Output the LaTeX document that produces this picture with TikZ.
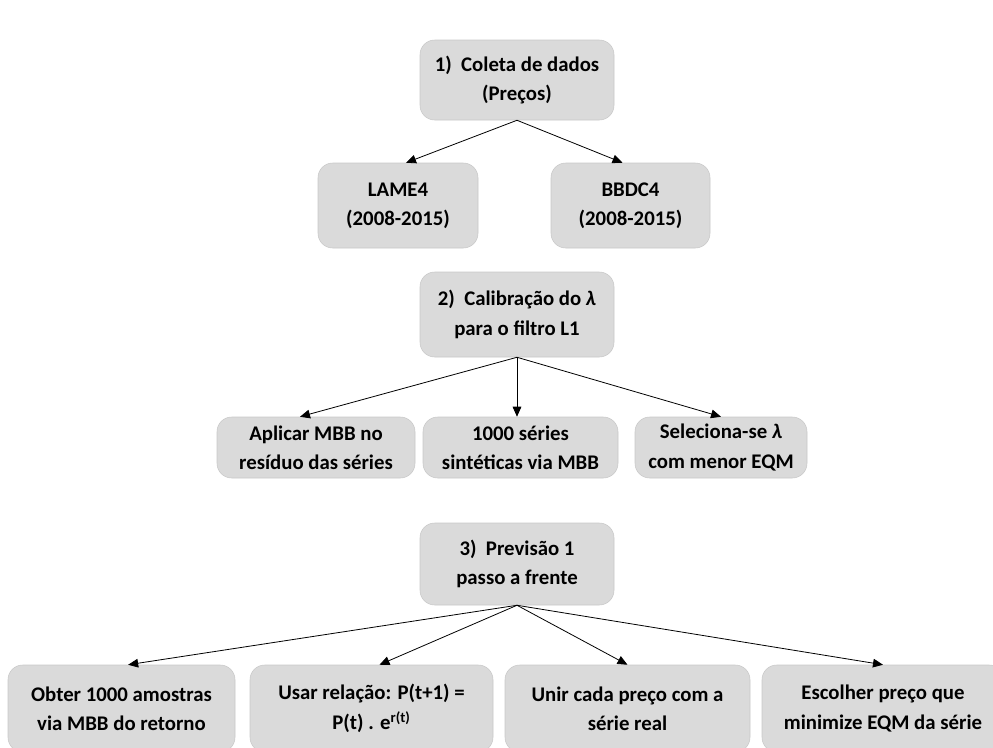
\documentclass[tikz,border=0pt]{standalone}
\usepackage{fontspec}
\setmainfont{Carlito}
\usepackage{tikz}
\usetikzlibrary{arrows.meta}
\definecolor{caixa}{RGB}{218,218,218}
\definecolor{borda}{RGB}{200,200,200}

\begin{document}
\begin{tikzpicture}[x=0.75pt, y=-0.75pt,
  every node/.style={font=\fontsize{15.6pt}{22pt}\selectfont\bfseries},
  etapa/.style={draw=borda, fill=caixa, rounded corners=11pt, align=center, inner sep=2pt},
  seta/.style={-{Triangle[length=7.5pt, width=6.5pt]}, draw=black, line width=0.6pt}]
  \useasboundingbox (0,0) rectangle (993,747);
  % Coleta
  \node[etapa, minimum width=145.5pt, minimum height=60pt] (coleta) at (517,80) {1)\ \ Coleta de dados\\(Preços)};
  \node[etapa, minimum width=120pt, minimum height=63.75pt] (lame) at (398,205.5) {LAME4\\(2008-2015)};
  \node[etapa, minimum width=119.25pt, minimum height=63.75pt] (bbdc) at (630.5,205.5) {BBDC4\\(2008-2015)};
  \draw[seta] (coleta.south) -- ([xshift=6pt]lame.north);
  \draw[seta] (coleta.south) -- ([xshift=-6pt]bbdc.north);
  % Calibracao
  \node[etapa, minimum width=145.5pt, minimum height=63.75pt] (calib) at (517,314.5) {2)\ \ Calibração do \textit{λ}\\para o filtro L1};
  \node[etapa, minimum width=148.5pt, minimum height=45.75pt] (aplicar) at (316,447.5) {Aplicar MBB no\\resíduo das séries};
  \node[etapa, minimum width=146.25pt, minimum height=45.75pt] (sinteticas) at (520.5,447.5) {1000 séries\\sintéticas via MBB};
  \node[etapa, minimum width=129pt, minimum height=45.75pt] (seleciona) at (721,447.5) {Seleciona-se \textit{λ}\\com menor EQM};
  \draw[seta] (calib.south) -- ([xshift=-12pt]aplicar.north);
  \draw[seta] (calib.south) -- (calib.south |- sinteticas.north);
  \draw[seta] (calib.south) -- (seleciona.north);
  % Previsao
  \node[etapa, minimum width=145.5pt, minimum height=61.5pt] (previsao) at (517,564) {3)\ \ Previsão 1\\passo a frente};
  \node[etapa, minimum width=170.25pt, minimum height=65.25pt] (obter) at (121.5,708.5) {Obter 1000 amostras\\via MBB do retorno};
  \node[etapa, minimum width=182.25pt, minimum height=65.25pt] (usar) at (371.5,708.5) {Usar relação: P(t+1) =\\P(t) . e\textsuperscript{r(t)}};
  \node[etapa, minimum width=183.75pt, minimum height=65.25pt] (unir) at (627.5,708.5) {Unir cada preço com a\\série real};
  \node[etapa, minimum width=181.5pt, minimum height=65.25pt] (escolher) at (883,708.5) {Escolher preço que\\minimize EQM da série};
  \draw[seta] (previsao.south) -- ([xshift=5pt]obter.north);
  \draw[seta] (previsao.south) -- ([xshift=6pt]usar.north);
  \draw[seta] (previsao.south) -- (unir.north);
  \draw[seta] (previsao.south) -- (escolher.north);
\end{tikzpicture}
\end{document}
